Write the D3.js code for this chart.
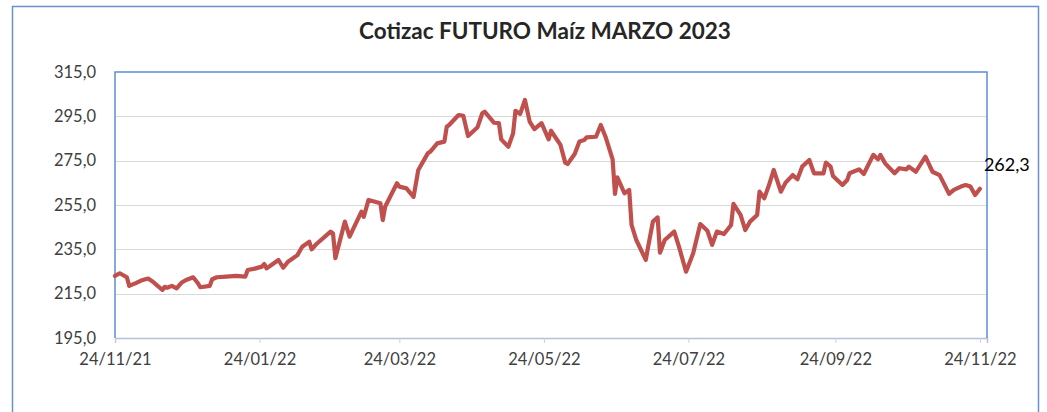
<!doctype html>
<meta charset="utf-8">
<script src="https://d3js.org/d3.v7.min.js"></script>
<style>
body { margin: 0; background: #fff; }
text { font-family: Lato, "Open Sans", sans-serif; }
</style>
<body></body>
<script>

var width = 1047;
var height = 412;

var title = "Cotizac FUTURO Maíz MARZO 2023";
var startDate = new Date(2021, 10, 24);

// days after 24/11/21 and settlement price
var dayOffsets = [0, 2, 5, 6, 9, 11, 14, 16, 18, 20, 21, 22, 24, 26, 28, 30, 33, 35, 36, 40,
    41, 43, 47, 51, 55, 56, 59, 62, 63, 64, 66, 69, 71, 73, 77, 79, 82, 83, 85, 91,
    92, 93, 97, 99, 104, 105, 107, 112, 113, 114, 119, 120, 123, 126, 128, 132, 133, 136, 139, 140,
    141, 145, 147, 149, 153, 155, 156, 160, 162, 163, 166, 168, 169, 171, 173, 175, 177, 180, 183, 184,
    188, 190, 191, 194, 196, 198, 199, 203, 205, 207, 210, 211, 212, 215, 217, 218, 220, 224, 225, 227,
    229, 230, 232, 236, 238, 241, 244, 247, 250, 252, 254, 257, 260, 261, 264, 266, 268, 271, 272, 274,
    276, 278, 281, 283, 286, 288, 290, 293, 295, 299, 300, 302, 303, 307, 309, 310, 314, 316, 320, 322,
    323, 325, 329, 331, 334, 335, 338, 342, 345, 348, 352, 354, 357, 359, 361, 363, 365];

var prices = [223.0, 224.2, 222.4, 218.5, 219.9, 220.9, 221.8, 220.4, 218.5, 216.7, 218.1, 217.7, 218.5, 217.4, 219.9, 221.2, 222.4, 219.7, 217.9, 218.5,
    221.5, 222.4, 222.7, 223.0, 222.7, 225.7, 226.3, 227.2, 228.4, 226.4, 227.9, 230.2, 226.7, 229.4, 232.4, 236.2, 238.4, 235.0, 237.4, 243.0,
    242.2, 231.0, 247.5, 240.7, 252.0, 249.7, 257.3, 255.8, 248.2, 254.2, 264.8, 263.3, 262.5, 258.7, 270.8, 278.3, 279.0, 282.8, 283.6, 290.3,
    291.1, 295.6, 295.2, 286.1, 290.1, 296.4, 297.1, 292.1, 291.9, 284.6, 281.3, 287.3, 297.5, 296.1, 302.4, 292.6, 289.2, 291.9, 284.6, 288.5,
    282.1, 274.1, 273.5, 278.0, 283.6, 284.3, 285.5, 285.8, 291.1, 285.8, 275.6, 260.0, 267.5, 260.3, 261.8, 246.0, 239.2, 230.2, 236.2, 247.5,
    249.4, 233.5, 239.2, 243.0, 236.2, 224.9, 233.2, 246.4, 243.4, 237.0, 243.0, 241.9, 246.0, 255.5, 250.5, 243.7, 247.5, 250.5, 261.0, 258.0,
    264.0, 270.8, 261.0, 265.1, 268.5, 266.6, 272.3, 275.3, 269.3, 269.3, 274.1, 272.3, 268.1, 264.0, 266.3, 269.3, 271.1, 269.0, 277.6, 275.6,
    277.6, 273.8, 269.3, 271.6, 271.1, 272.3, 270.0, 276.8, 270.0, 268.5, 260.0, 261.8, 263.3, 264.0, 263.3, 259.5, 262.3];

var yTicks = [195, 215, 235, 255, 275, 295, 315];
var xTickLabels = ["24/11/21", "24/01/22", "24/03/22", "24/05/22", "24/07/22", "24/09/22", "24/11/22"];

var data = dayOffsets.map(function(d, i) {
    return { date: d3.timeDay.offset(startDate, d), value: prices[i] };
});
var xTickDates = xTickLabels.map(function(d, i) {
    return d3.timeMonth.offset(startDate, 2 * i);
});

var margin = { left: 115, top: 72, right: 987, bottom: 338 };

var svg = d3.select("body")
        .append("svg")
        .attr("width", width)
        .attr("height", height);

// outer chart frame
svg.append("rect")
        .attr("x", 12.5)
        .attr("y", 6.5)
        .attr("width", 1026)
        .attr("height", 440)
        .style("fill", "none")
        .style("stroke", "#6b8fc9")
        .style("stroke-width", 1.5);

svg.append("text")
        .attr("x", 545)
        .attr("y", 39)
        .attr("text-anchor", "middle")
        .style("font-size", "22.5px")
        .style("font-weight", "bold")
        .style("fill", "#262626")
        .text(title);

var x = d3.scaleTime()
        .domain([startDate, d3.timeDay.offset(startDate, 368)])
        .range([margin.left, margin.right]);

var y = d3.scaleLinear()
        .domain([195, 315])
        .range([margin.bottom, margin.top]);

// gridlines
svg.append("g")
        .selectAll("line")
        .data(yTicks.slice(1, -1))
        .enter().append("line")
        .attr("x1", margin.left)
        .attr("x2", margin.right)
        .attr("y1", function(d) { return Math.round(y(d)) + 0.5; })
        .attr("y2", function(d) { return Math.round(y(d)) + 0.5; })
        .style("stroke", "#d9d9d9")
        .style("stroke-width", 1.2);

// y axis labels
var yAxis = d3.axisLeft(y)
        .tickValues(yTicks)
        .tickSize(0)
        .tickPadding(19)
        .tickFormat(function(d) { return d3.format(".1f")(d).replace(".", ","); });

var gy = svg.append("g")
        .attr("transform", "translate(" + margin.left + ",0)")
        .call(yAxis);
gy.select(".domain").remove();
gy.selectAll("text")
        .style("font-family", "Lato, sans-serif")
        .style("font-size", "16.5px")
        .style("fill", "#404040");

// x axis
var xAxis = d3.axisBottom(x)
        .tickValues(xTickDates)
        .tickSize(5)
        .tickPadding(10)
        .tickFormat(function(d, i) { return xTickLabels[i]; });

var gx = svg.append("g")
        .attr("transform", "translate(0," + margin.bottom + ")")
        .call(xAxis);
gx.select(".domain")
        .style("stroke", "#b4c2d8")
        .style("stroke-width", 1.5);
gx.selectAll(".tick line")
        .style("stroke", "#c8d0dc");
gx.selectAll("text")
        .style("font-family", "Lato, sans-serif")
        .style("font-size", "16.5px")
        .style("fill", "#404040");

// plot area frame: top, left, right
svg.append("path")
        .attr("d", "M" + margin.left + "," + margin.bottom + "V" + margin.top + "H" + margin.right + "V" + margin.bottom)
        .style("fill", "none")
        .style("stroke", "#5b8fd6")
        .style("stroke-width", 1.5);

var line = d3.line()
        .x(function(d) { return x(d.date); })
        .y(function(d) { return y(d.value); });

svg.append("path")
        .datum(data)
        .attr("d", line)
        .style("fill", "none")
        .style("stroke", "#c0504d")
        .style("stroke-width", 4.2)
        .style("stroke-linejoin", "round")
        .style("stroke-linecap", "round");

var last = data[data.length - 1];
svg.append("text")
        .attr("x", x(last.date) + 4)
        .attr("y", y(last.value) - 18)
        .style("font-size", "18px")
        .style("fill", "#000")
        .text(d3.format(".1f")(last.value).replace(".", ","));

</script>
